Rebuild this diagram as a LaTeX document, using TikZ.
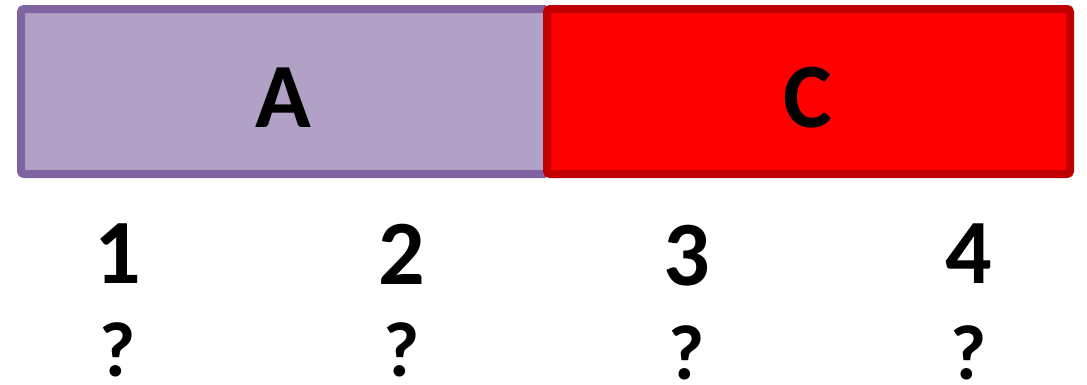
\documentclass[tikz,border=0pt]{standalone}
\usepackage{fontspec}
\setmainfont{Carlito}
\definecolor{lav}{HTML}{B2A1C7}
\definecolor{lavb}{HTML}{8064A2}
\definecolor{redb}{HTML}{C00000}
\begin{document}
\begin{tikzpicture}[x=1pt,y=-1pt,
  box/.style={line width=8pt,rounded corners=3pt},
  big/.style={font=\fontsize{92}{92}\selectfont\bfseries,inner sep=0pt},
  num/.style={font=\fontsize{92}{92}\selectfont\bfseries,inner sep=0pt},
  qm/.style={font=\fontsize{78}{78}\selectfont\bfseries,inner sep=0pt}]
\useasboundingbox (0,0) rectangle (1087,384);
\draw[box,fill=lav,draw=lavb] (21,9) rectangle (547,174);
\draw[box,fill=red,draw=redb] (547,9) rectangle (1070,174);
\node[big] (a) at (283,98) {A};
\node[big] (c) at (808,98) {C};
\node[num] (n1) at (118,254) {1};
\node[num] (n2) at (402,254) {2};
\node[num] (n3) at (687,256) {3};
\node[num] (n4) at (969,254) {4};
\node[qm] (q1) at (118,350) {?};
\node[qm] (q2) at (402,350) {?};
\node[qm] (q3) at (687,353) {?};
\node[qm] (q4) at (969,353) {?};
\end{tikzpicture}
\end{document}
